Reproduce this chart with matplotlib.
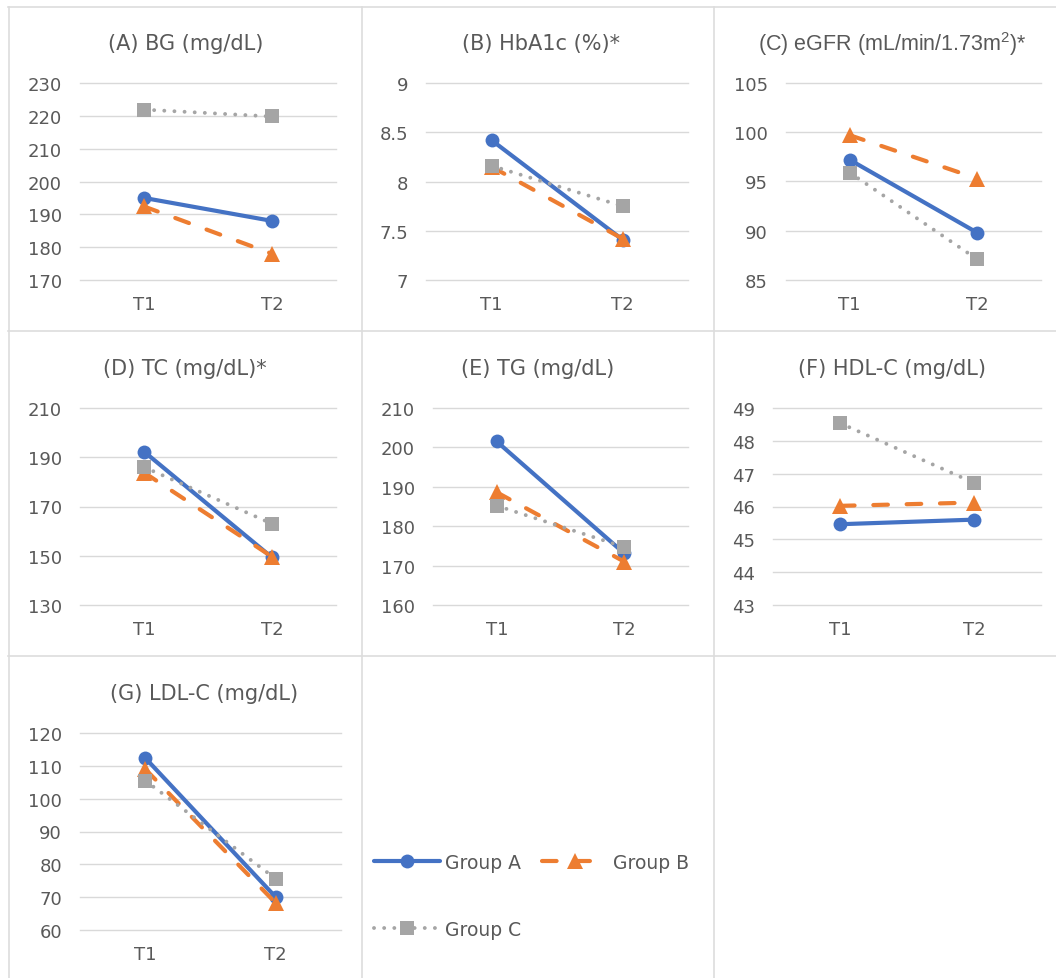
import matplotlib
matplotlib.use("Agg")
import matplotlib.pyplot as plt
from matplotlib.lines import Line2D
from matplotlib.ticker import FuncFormatter

plt.rcParams['font.family'] = ['DejaVu Sans']
plt.rcParams['mathtext.fontset'] = 'custom'
plt.rcParams['mathtext.rm'] = 'Liberation Sans'
plt.rcParams['mathtext.it'] = 'Liberation Sans'

# ---------------- data ----------------
times = ["T1", "T2"]
groups = ["Group A", "Group B", "Group C"]

titles = ["(A) BG (mg/dL)", "(B) HbA1c (%)*", "(C) eGFR (mL/min/1.73m$^{2}$)*",
          "(D) TC (mg/dL)*", "(E) TG (mg/dL)", "(F) HDL-C (mg/dL)", "(G) LDL-C (mg/dL)"]

bg_a = [195.0, 188.0]
bg_b = [192.4, 178.0]
bg_c = [221.9, 219.8]

hba1c_a = [8.42, 7.41]
hba1c_b = [8.15, 7.42]
hba1c_c = [8.16, 7.75]

egfr_a = [97.2, 89.8]
egfr_b = [99.7, 95.3]
egfr_c = [95.9, 87.1]

tc_a = [192.3, 149.3]
tc_b = [183.8, 149.6]
tc_c = [186.0, 163.0]

tg_a = [201.5, 173.1]
tg_b = [188.6, 171.0]
tg_c = [185.2, 174.7]

hdl_a = [45.46, 45.6]
hdl_b = [46.02, 46.12]
hdl_c = [48.54, 46.72]

ldl_a = [112.4, 70.0]
ldl_b = [109.0, 68.2]
ldl_c = [105.5, 75.6]

yticks_bg = [170, 180, 190, 200, 210, 220, 230]
yticks_hba1c = [7, 7.5, 8, 8.5, 9]
yticks_egfr = [85, 90, 95, 100, 105]
yticks_tc = [130, 150, 170, 190, 210]
yticks_tg = [160, 170, 180, 190, 200, 210]
yticks_hdl = [43, 44, 45, 46, 47, 48, 49]
yticks_ldl = [60, 70, 80, 90, 100, 110, 120]

panels = [
    (bg_a, bg_b, bg_c, yticks_bg),
    (hba1c_a, hba1c_b, hba1c_c, yticks_hba1c),
    (egfr_a, egfr_b, egfr_c, yticks_egfr),
    (tc_a, tc_b, tc_c, yticks_tc),
    (tg_a, tg_b, tg_c, yticks_tg),
    (hdl_a, hdl_b, hdl_c, yticks_hdl),
    (ldl_a, ldl_b, ldl_c, yticks_ldl),
]

# ---------------- layout (pixels) ----------------
W, H = 1056, 979
fig = plt.figure(figsize=(W / 100, H / 100), dpi=100)

def fx(x):
    return x / W

def fy(y):
    return 1 - y / H

# axes boxes: x0, x1, ytop, ybottom
boxes = [
    (80, 336, 84, 281), (426, 688, 84, 281), (786, 1041, 84, 281),
    (80, 336, 409, 606), (433, 688, 409, 606), (773, 1041, 409, 606),
    (80, 341, 734, 931),
]
title_pos = [(186, 44), (541, 44), (892, 44),
             (185, 369), (538, 369), (892, 369),
             (204, 694)]

TEXT = '#595959'
GRID = '#D9D9D9'
BLUE = '#4472C4'
ORANGE = '#ED7D31'
GRAY = '#A5A5A5'

styles = [
    dict(color=BLUE, lw=3.0, ls='-', marker='o', ms=10, solid_capstyle='round'),
    dict(color=ORANGE, lw=3.0, ls=(0, (3.5, 4.5)), marker='^', ms=11, dash_capstyle='round'),
    dict(color=GRAY, lw=2.8, ls=(0, (0.01, 2.6)), marker='s', ms=9.5, dash_capstyle='round'),
]

# cell borders
for y in (8, 332, 657):
    fig.add_artist(Line2D([fx(8), 1], [fy(y), fy(y)], color='#DDDDDD', lw=1.2))
for x in (9, 362, 714):
    fig.add_artist(Line2D([fx(x), fx(x)], [fy(8), 0], color='#DDDDDD', lw=1.2))

fmt = FuncFormatter(lambda v, _: f"{v:g}")

for i, (a, b, c, yt) in enumerate(panels):
    x0, x1, yt0, yb0 = boxes[i]
    ax = fig.add_axes([fx(x0), fy(yb0), fx(x1 - x0), (yb0 - yt0) / H])
    xs = list(range(len(times)))
    for vals, st in zip((a, b, c), styles):
        ax.plot(xs, vals, markeredgewidth=0, clip_on=False, zorder=3, **st)
    ax.set_xlim(-0.5, 1.5)
    ax.set_ylim(yt[0], yt[-1])
    ax.set_yticks(yt)
    ax.yaxis.set_major_formatter(fmt)
    ax.set_xticks(xs)
    ax.set_xticklabels(times)
    ax.tick_params(axis='both', length=0, labelsize=13, labelcolor=TEXT)
    ax.tick_params(axis='y', pad=13)
    ax.tick_params(axis='x', pad=11)
    for s in ax.spines.values():
        s.set_visible(False)
    ax.grid(axis='y', color=GRID, lw=1.0)
    for gl in ax.get_ygridlines():
        gl.set_clip_on(False)
    ax.set_axisbelow(True)
    ax.set_facecolor('none')
    tx, ty = title_pos[i]
    if i == 2:
        fig.text(fx(tx), fy(ty), titles[i], ha='center', va='center',
                 fontsize=15.5, color=TEXT, family='Liberation Sans')
    else:
        fig.text(fx(tx), fy(ty), titles[i], ha='center', va='center',
                 fontsize=15, color=TEXT)

# legend
handles = [Line2D([], [], markeredgewidth=0, **st) for st in styles]
order = [0, 2, 1]
leg = fig.legend([handles[k] for k in order], [groups[k] for k in order],
                 ncol=2, loc='upper left', bbox_to_anchor=(fx(374), fy(854)),
                 frameon=False, fontsize=13.5, handlelength=3.5, handletextpad=0.3,
                 columnspacing=1.1, labelspacing=2.55, borderpad=0, borderaxespad=0)
for t in leg.get_texts():
    t.set_color(TEXT)

fig.savefig("out.png", dpi=100, facecolor='white')
